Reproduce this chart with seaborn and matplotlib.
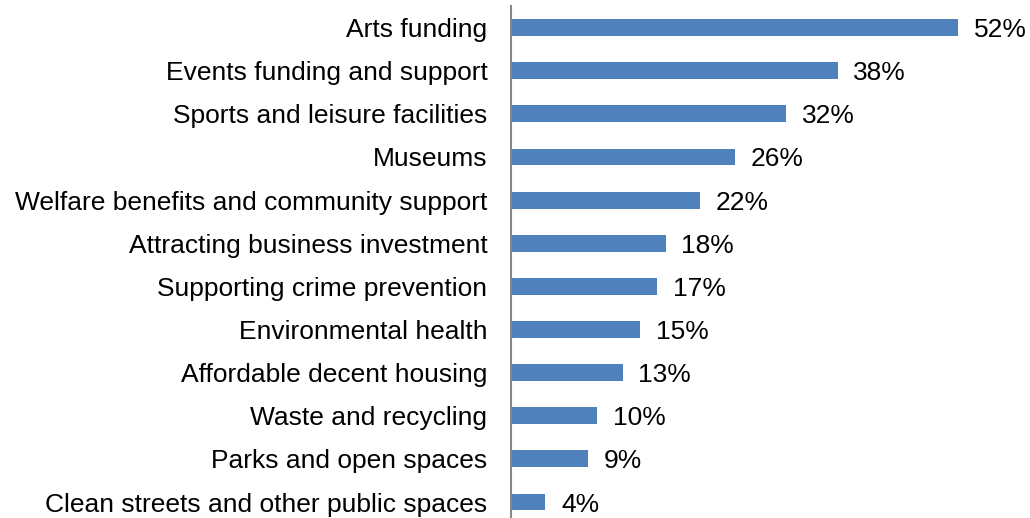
import pandas as pd
import seaborn as sns
import matplotlib.pyplot as plt

categories = [
    "Arts funding",
    "Events funding and support",
    "Sports and leisure facilities",
    "Museums",
    "Welfare benefits and community support",
    "Attracting business investment",
    "Supporting crime prevention",
    "Environmental health",
    "Affordable decent housing",
    "Waste and recycling",
    "Parks and open spaces",
    "Clean streets and other public spaces",
]
values = [52, 38, 32, 26, 22, 18, 17, 15, 13, 10, 9, 4]

df = pd.DataFrame({"service": categories, "pct": values})

sns.set_style("white")
plt.rcParams["font.family"] = ["Liberation Sans", "DejaVu Sans"]
plt.rcParams["text.color"] = "black"
plt.rcParams["ytick.color"] = "black"

fig = plt.figure(figsize=(10.3, 5.18), dpi=100)
ax = fig.add_axes([511 / 1030, 0, 505 / 1030, 512 / 518])

sns.barplot(data=df, x="pct", y="service", color="#4F81BD", saturation=1,
            width=0.39, orient="h", linewidth=0, ax=ax)

for i, v in enumerate(values):
    ax.text(v + 1.8, i, f"{v}%", va="center_baseline", ha="left",
            fontsize=19, color="black")

ax.set_xlim(0, 58.7)
ax.set_ylim(11.37, -0.5)
ax.set_xlabel("")
ax.set_ylabel("")
ax.set_xticks([])
ax.tick_params(axis="y", length=0, labelsize=19, pad=17, labelcolor="black")
for side in ["top", "right", "bottom"]:
    ax.spines[side].set_visible(False)
ax.spines["left"].set_color("#888888")
ax.spines["left"].set_linewidth(1.5)

fig.savefig("out.png", dpi=100)
